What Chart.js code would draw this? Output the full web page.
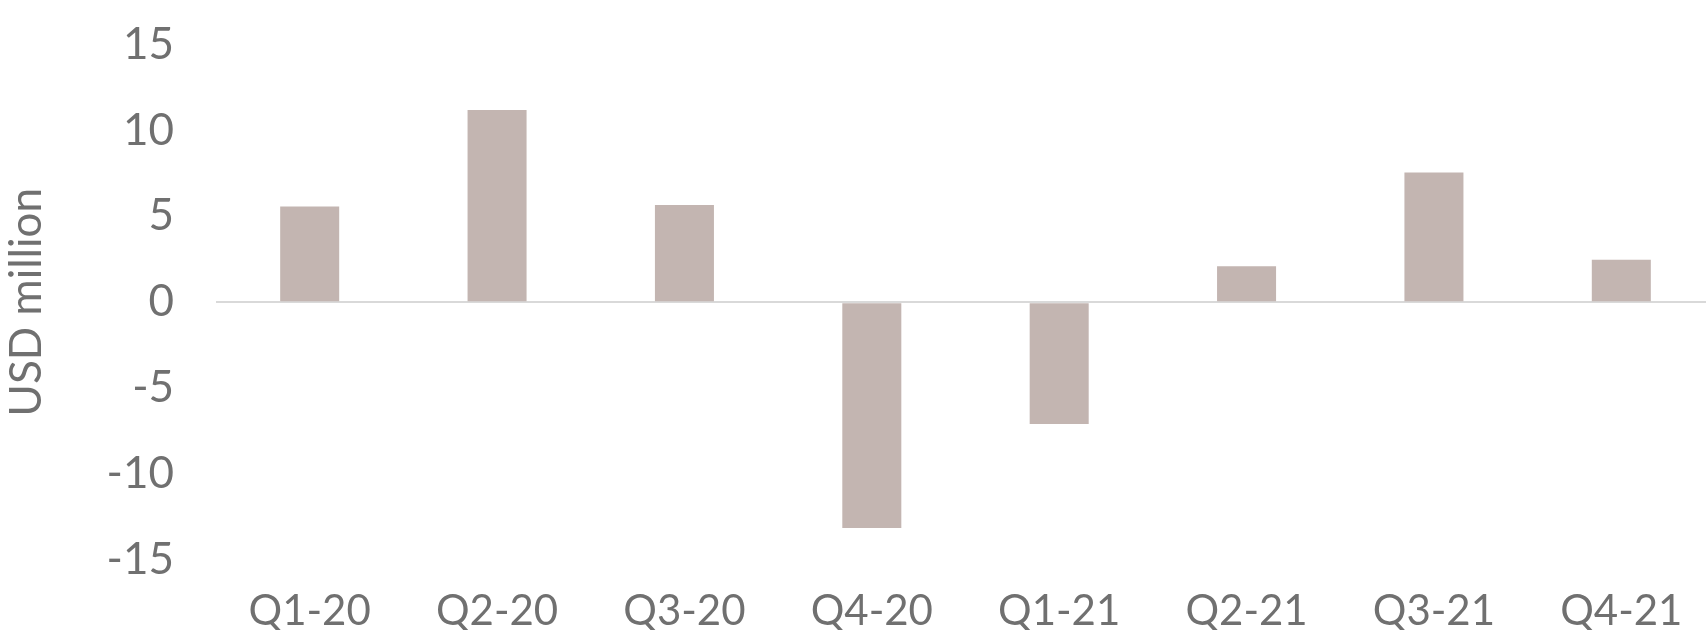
<!DOCTYPE html>
<html>
<head>
<meta charset="utf-8">
<script src="https://cdn.jsdelivr.net/npm/chart.js@4"></script>
<style>
  html, body { margin: 0; padding: 0; background: #fff; overflow: hidden; }
  /* canvas a bit taller/wider than the window so the plot sits like the reference */
  #wrap { width: 1715px; height: 654px; position: relative; margin-top: -24px; }
</style>
</head>
<body>
<div id="wrap"><canvas id="quarterChart"></canvas></div>
<script>
// quarterly values
const quarters = ['Q1-20', 'Q2-20', 'Q3-20', 'Q4-20', 'Q1-21', 'Q2-21', 'Q3-21', 'Q4-21'];
const usdMillion = [5.57, 11.18, 5.65, -13.14, -7.08, 2.09, 7.55, 2.47];
const yTicks = [-15, -10, -5, 0, 5, 10, 15];

const textColor = '#707070';
const barColor = '#c3b5b1';
const fontFamily = 'Lato, "Open Sans", sans-serif';

const ctx = document.getElementById('quarterChart');

new Chart(ctx, {
    type: 'bar',
    data: {
        labels: quarters,
        datasets: [{
            data: usdMillion,
            backgroundColor: barColor,
            borderWidth: 0,
            categoryPercentage: 1,
            barPercentage: 0.315
        }]
    },
    options: {
        responsive: true,
        maintainAspectRatio: false,
        animation: false,
        layout: {
            padding: { top: 0, left: 0, right: 0, bottom: 0 }
        },
        scales: {
            x: {
                grid: { display: false },
                border: { display: false },
                ticks: {
                    color: textColor,
                    font: { family: fontFamily, size: 42 },
                    padding: 18,
                    maxRotation: 0,
                    autoSkip: false
                },
                afterFit: (scale) => { scale.height = 70; }
            },
            y: {
                min: yTicks[0],
                max: yTicks[yTicks.length - 1],
                afterBuildTicks: (scale) => {
                    scale.ticks = yTicks.map(v => ({ value: v }));
                },
                grid: {
                    drawTicks: false,
                    lineWidth: 2,
                    // only the zero line is drawn
                    color: (c) => (c.tick && c.tick.value === 0) ? '#d9d9d9' : 'rgba(0,0,0,0)'
                },
                border: { display: false },
                ticks: {
                    color: textColor,
                    font: { family: fontFamily, size: 44 },
                    padding: 42
                },
                title: {
                    display: true,
                    text: 'USD million',
                    color: textColor,
                    font: { family: fontFamily, size: 44 },
                    padding: { top: 0, bottom: 0 }
                },
                afterFit: (scale) => { scale.width = 216; }
            }
        },
        plugins: {
            legend: { display: false },
            tooltip: { enabled: false }
        }
    }
});
</script>
</body>
</html>
